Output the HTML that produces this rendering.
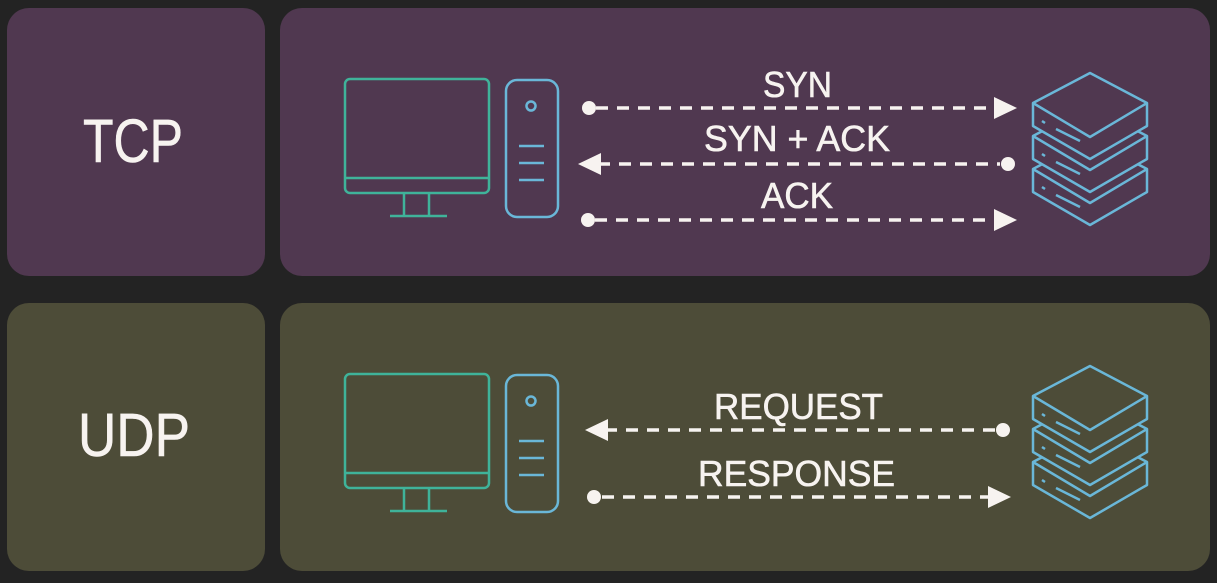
<!DOCTYPE html>
<html><head><meta charset="utf-8"><style>
html,body{margin:0;padding:0;background:#232323;}
svg{display:block;}
text{font-family:"Liberation Sans",sans-serif;fill:#f7f3f0;stroke:#f7f3f0;stroke-width:0.6;}
</style></head><body>
<svg width="1217" height="583" viewBox="0 0 1217 583" xmlns="http://www.w3.org/2000/svg">
<rect width="1217" height="583" fill="#232323"/>
<rect x="7" y="8" width="258" height="268" rx="22" fill="#503850"/>
<rect x="280" y="8" width="930" height="268" rx="22" fill="#503850"/>
<rect x="7" y="303" width="258" height="268" rx="22" fill="#4d4c38"/>
<rect x="280" y="303" width="930" height="268" rx="22" fill="#4d4c38"/>

<text x="83" y="162" font-size="61" textLength="100" lengthAdjust="spacingAndGlyphs">TCP</text>
<text x="78" y="456" font-size="61" textLength="112" lengthAdjust="spacingAndGlyphs">UDP</text>

<defs>
<g id="pc">
  <g fill="none" stroke="#3fb39a" stroke-width="2.5">
    <rect x="345" y="79" width="144" height="114" rx="5"/>
    <line x1="345" y1="178" x2="489" y2="178"/>
    <line x1="404" y1="193" x2="404" y2="215"/>
    <line x1="429" y1="193" x2="429" y2="215"/>
    <line x1="390" y1="216" x2="447" y2="216"/>
  </g>
  <g fill="none" stroke="#6ab7d8" stroke-width="2.5">
    <rect x="506" y="80" width="52" height="137" rx="11"/>
    <circle cx="531" cy="106" r="4.5"/>
    <line x1="519" y1="146" x2="544" y2="146"/>
    <line x1="519" y1="163" x2="544" y2="163"/>
    <line x1="519" y1="180" x2="544" y2="180"/>
  </g>
</g>
<g id="layer" fill="currentColor" stroke="#6ab7d8" stroke-width="2.5" stroke-linejoin="round">
  <path d="M1033,103 L1090,73 L1147,103 L1147,126 L1090,159 L1033,126 Z"/>
  <path d="M1033,103 L1090,137 L1147,103" fill="none"/>
  <line x1="1042" y1="121" x2="1045" y2="123"/>
  <line x1="1056" y1="129" x2="1080" y2="141"/>
</g>
<g id="srv">
  <use href="#layer" transform="translate(0,66)"/>
  <use href="#layer" transform="translate(0,33)"/>
  <use href="#layer"/>
</g>
</defs>

<use href="#pc"/>
<use href="#pc" transform="translate(0,295)"/>
<use href="#srv" style="color:#503850"/>
<use href="#srv" transform="translate(0,293)" style="color:#4d4c38"/>

<g stroke="#f7f3f0" stroke-width="3.5" stroke-dasharray="12 9" fill="none">
  <line x1="596" y1="108" x2="995" y2="108"/>
  <line x1="598" y1="164" x2="1000" y2="164"/>
  <line x1="595" y1="220" x2="995" y2="220"/>
  <line x1="605" y1="430" x2="995" y2="430"/>
  <line x1="602" y1="497" x2="990" y2="497"/>
</g>
<g fill="#f7f3f0">
  <circle cx="589" cy="108" r="7"/>
  <path d="M1017,108 L994,97 L994,119 Z"/>
  <circle cx="1008" cy="164" r="7"/>
  <path d="M578,164 L601,153 L601,175 Z"/>
  <circle cx="588" cy="220" r="7"/>
  <path d="M1017,220 L994,209 L994,231 Z"/>
  <circle cx="1003" cy="430" r="7"/>
  <path d="M585,430 L608,419 L608,441 Z"/>
  <circle cx="594" cy="497" r="7"/>
  <path d="M1011,497 L988,486 L988,508 Z"/>
</g>

<text x="763" y="97" font-size="36" textLength="69" lengthAdjust="spacingAndGlyphs">SYN</text>
<text x="704" y="151" font-size="36" textLength="186" lengthAdjust="spacingAndGlyphs">SYN + ACK</text>
<text x="761" y="208" font-size="36" textLength="72" lengthAdjust="spacingAndGlyphs">ACK</text>
<text x="714" y="419" font-size="36" textLength="169" lengthAdjust="spacingAndGlyphs">REQUEST</text>
<text x="698" y="486" font-size="36" textLength="197" lengthAdjust="spacingAndGlyphs">RESPONSE</text>
</svg>
</body></html>
